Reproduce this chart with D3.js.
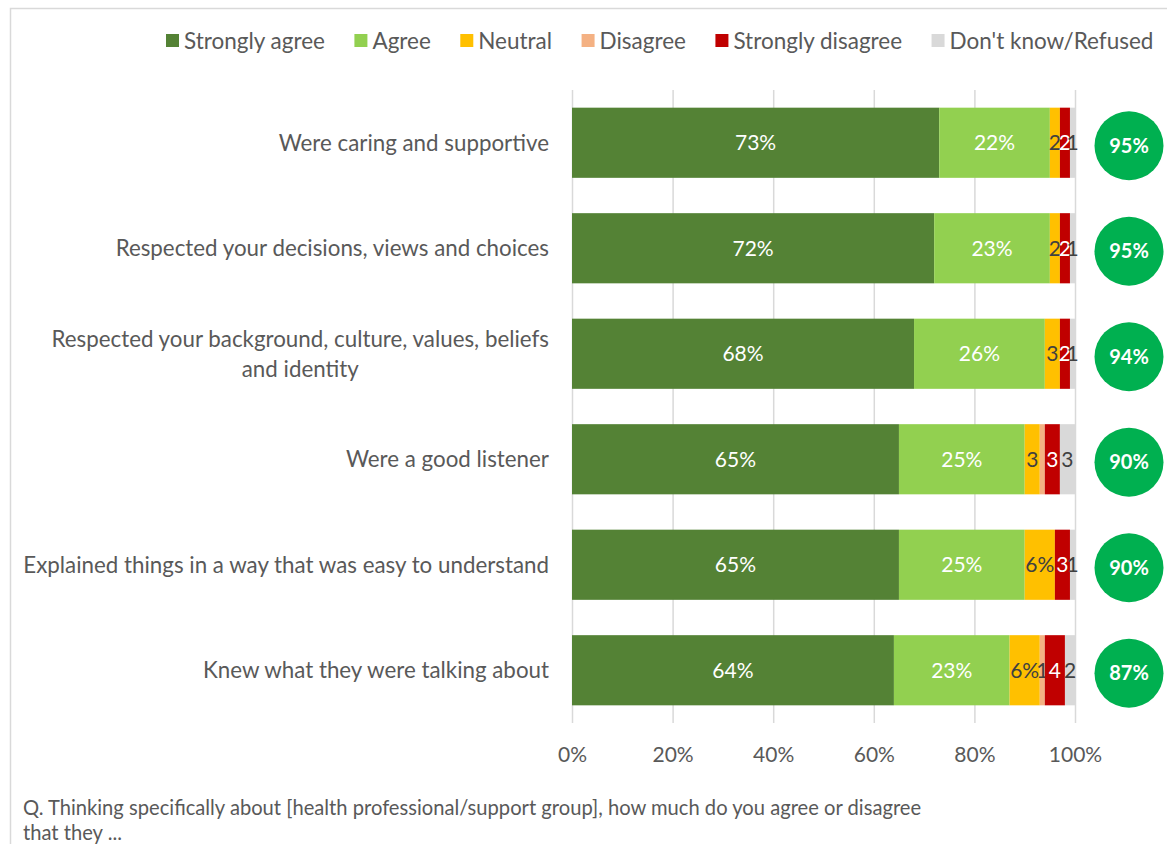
<!DOCTYPE html>
<html>
<head>
<meta charset="utf-8">
<script src="https://cdn.jsdelivr.net/npm/d3@7"></script>
<style>
  html, body { margin: 0; padding: 0; background: #fff; }
  svg { display: block; font-family: Lato, "Open Sans", sans-serif; }
</style>
</head>
<body>
<svg id="chart" width="1167" height="844"></svg>
<script>
// Survey statements (top to bottom)
const statements = [
  ["Were caring and supportive"],
  ["Respected your decisions, views and choices"],
  ["Respected your background, culture, values, beliefs", "and identity"],
  ["Were a good listener"],
  ["Explained things in a way that was easy to understand"],
  ["Knew what they were talking about"]
];
const responses = ["Strongly agree", "Agree", "Neutral", "Disagree", "Strongly disagree", "Don't know/Refused"];
const responseColors = ["#548235", "#92D050", "#FFC000", "#F4B183", "#C00000", "#D9D9D9"];
const labelColors = ["#ffffff", "#ffffff", "#404040", "#404040", "#ffffff", "#404040"];

// Percentages per response, one array per response category
const stronglyAgree    = [73, 72, 68, 65, 65, 64];
const agree            = [22, 23, 26, 25, 25, 23];
const neutral          = [2, 2, 3, 3, 6, 6];
const disagree         = [0, 0, 0, 1, 0, 1];
const stronglyDisagree = [2, 2, 2, 3, 3, 4];
const dontKnow         = [1, 1, 1, 3, 1, 2];
// segments whose value label is left off (statement index, response index)
const hiddenLabels = [[3, 3]];

const tickValues = [0, 20, 40, 60, 80, 100];
const footnote = [
  "Q. Thinking specifically about [health professional/support group], how much do you agree or disagree",
  "that they ..."
];

const seriesValues = [stronglyAgree, agree, neutral, disagree, stronglyDisagree, dontKnow];
const rows = statements.map((s, i) => {
  const r = { key: i };
  responses.forEach((resp, j) => r[resp] = seriesValues[j][i]);
  return r;
});

const svg = d3.select("#chart");

// pick a font size so that a text spans the wanted width
function fitSize(text, width, base) {
  const t = svg.append("text").style("font-size", base + "px").text(text);
  const w = t.node().getComputedTextLength();
  t.remove();
  return base * width / w;
}
const labelSize = fitSize(statements[4][0], 526, 20);
const legendSize = fitSize("Strongly agree", 141, 20);
const noteSize = fitSize(footnote[0], 899, 17);

// chart frame
svg.append("path")
  .attr("d", "M10.5,844 L10.5,8.5 L1167,8.5")
  .attr("fill", "none")
  .attr("stroke", "#d9d9d9")
  .attr("stroke-width", 1.5);

const x = d3.scaleLinear().domain([0, 100]).range([572, 1075]);
const y = d3.scaleBand().domain(d3.range(statements.length)).range([90, 723])
  .paddingInner(0.335).paddingOuter(0.1675);

// gridlines + tick labels
const axis = d3.axisBottom(x).tickValues(tickValues).tickFormat(d => d + "%").tickSize(-(723 - 90));
const ax = svg.append("g").attr("transform", "translate(0,723)").call(axis);
ax.select(".domain").remove();
ax.selectAll(".tick line").attr("stroke", "#d9d9d9").attr("stroke-width", 1.5);
ax.selectAll(".tick text")
  .attr("y", 32).attr("dy", "0.35em")
  .attr("fill", "#595959")
  .style("font-size", "21px")
  .style("font-family", "Lato, 'Open Sans', sans-serif");

// stacked segments
const stack = d3.stack().keys(responses);
const layers = stack(rows);

const isHidden = (i, j) => hiddenLabels.some(h => h[0] === i && h[1] === j);

layers.forEach((layer, j) => {
  const g = svg.append("g");
  g.selectAll("rect").data(layer).join("rect")
    .attr("x", d => x(d[0]))
    .attr("width", d => x(d[1]) - x(d[0]))
    .attr("y", (d, i) => y(i))
    .attr("height", y.bandwidth())
    .attr("fill", responseColors[j]);
  g.selectAll("text").data(layer.filter((d, i) => (d[1] - d[0]) > 0 && !isHidden(i, j)))
    .join("text")
    .attr("x", d => (x(d[0]) + x(d[1])) / 2)
    .attr("y", d => y(d.data.key) + y.bandwidth() / 2)
    .attr("dy", "0.35em")
    .attr("text-anchor", "middle")
    .attr("fill", labelColors[j])
    .style("font-size", "21px")
    .text(d => {
      const v = d[1] - d[0];
      return v >= 5 ? v + "%" : String(v);
    });
});

// statement labels (wrapped lines centred under the first line)
statements.forEach((lines, i) => {
  const cy = y(i) + y.bandwidth() / 2;
  const t = svg.append("text")
    .attr("fill", "#595959")
    .style("font-size", labelSize + "px");
  const first = t.append("tspan")
    .attr("x", 549)
    .attr("y", cy - (lines.length - 1) * 15)
    .attr("dy", "0.35em")
    .attr("text-anchor", "end")
    .text(lines[0]);
  const w = first.node().getComputedTextLength();
  lines.slice(1).forEach((ln, k) => {
    t.append("tspan")
      .attr("x", 549 - w / 2)
      .attr("y", cy - (lines.length - 1) * 15 + (k + 1) * 30)
      .attr("dy", "0.35em")
      .attr("text-anchor", "middle")
      .text(ln);
  });
});

// top-two-box totals
const topTwo = stronglyAgree.map((v, i) => v + agree[i]);
const circ = svg.append("g");
circ.selectAll("circle").data(topTwo).join("circle")
  .attr("cx", 1129)
  .attr("cy", (d, i) => y(i) + y.bandwidth() / 2 + 3)
  .attr("r", 34.5)
  .attr("fill", "#00B050");
circ.selectAll("text").data(topTwo).join("text")
  .attr("x", 1129)
  .attr("y", (d, i) => y(i) + y.bandwidth() / 2 + 3)
  .attr("dy", "0.35em")
  .attr("text-anchor", "middle")
  .attr("fill", "#ffffff")
  .style("font-size", "20px")
  .style("font-weight", "bold")
  .text(d => d + "%");

// legend
const legend = svg.append("g");
let lx = 166;
responses.forEach((r, j) => {
  legend.append("rect")
    .attr("x", lx).attr("y", 34).attr("width", 13).attr("height", 13)
    .attr("fill", responseColors[j]);
  const t = legend.append("text")
    .attr("x", lx + 18).attr("y", 41).attr("dy", "0.35em")
    .attr("fill", "#595959")
    .style("font-size", legendSize + "px")
    .text(r);
  lx += 18 + t.node().getComputedTextLength() + 29.5;
});

// question footnote
footnote.forEach((ln, k) => {
  svg.append("text")
    .attr("x", 23).attr("y", 808 + k * 25).attr("dy", "0.35em")
    .attr("fill", "#595959")
    .style("font-size", noteSize + "px")
    .text(ln);
});
</script>
</body>
</html>
